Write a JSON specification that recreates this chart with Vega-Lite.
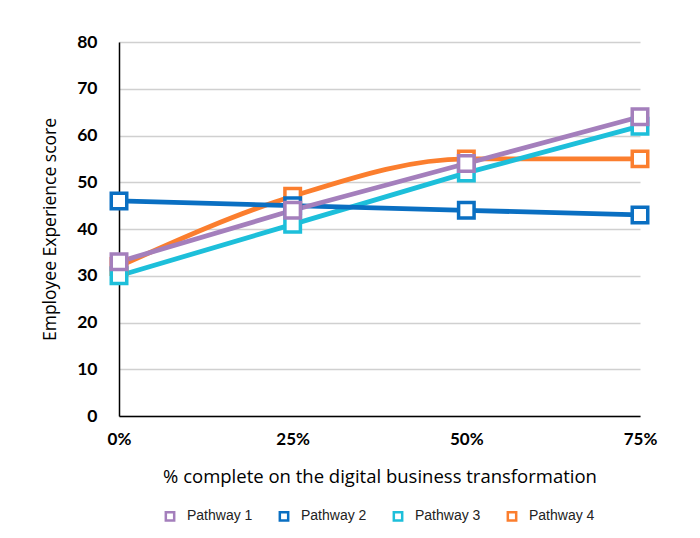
{
  "$schema": "https://vega.github.io/schema/vega-lite/v6.json",
  "autosize": {"type": "none"},
  "width": 521,
  "height": 374,
  "padding": {"left": 119, "top": 42, "right": 60, "bottom": 122},
  "background": "white",
  "config": {"view": {"stroke": null}},
  "data": {
    "values": [
      {"pct": 0, "pathway": "Pathway 4", "score": 32},
      {"pct": 25, "pathway": "Pathway 4", "score": 47},
      {"pct": 50, "pathway": "Pathway 4", "score": 55},
      {"pct": 75, "pathway": "Pathway 4", "score": 55},
      {"pct": 0, "pathway": "Pathway 3", "score": 30},
      {"pct": 25, "pathway": "Pathway 3", "score": 41},
      {"pct": 50, "pathway": "Pathway 3", "score": 52},
      {"pct": 75, "pathway": "Pathway 3", "score": 62},
      {"pct": 0, "pathway": "Pathway 2", "score": 46},
      {"pct": 25, "pathway": "Pathway 2", "score": 45},
      {"pct": 50, "pathway": "Pathway 2", "score": 44},
      {"pct": 75, "pathway": "Pathway 2", "score": 43},
      {"pct": 0, "pathway": "Pathway 1", "score": 33},
      {"pct": 25, "pathway": "Pathway 1", "score": 44},
      {"pct": 50, "pathway": "Pathway 1", "score": 54},
      {"pct": 75, "pathway": "Pathway 1", "score": 64}
    ]
  },
  "encoding": {
    "x": {
      "field": "pct", "type": "quantitative",
      "scale": {"domain": [0, 75], "nice": false, "zero": false},
      "axis": {
        "values": [0, 25, 50, 75],
        "labelExpr": "datum.value + '%'",
        "grid": false, "ticks": false,
        "domainColor": "#000000", "domainWidth": 1.5,
        "labelFont": "Lato", "labelFontWeight": "bold", "labelFontSize": 17, "labelColor": "#000000",
        "labelPadding": 15, "labelFlush": false,
        "title": "% complete on the digital business transformation",
        "titleFont": "Open Sans", "titleFontWeight": "normal", "titleFontSize": 18.5, "titleColor": "#000000",
        "titlePadding": 20
      }
    },
    "y": {
      "field": "score", "type": "quantitative",
      "scale": {"domain": [0, 80], "nice": false},
      "axis": {
        "values": [0, 10, 20, 30, 40, 50, 60, 70, 80],
        "grid": true, "gridColor": "#d0d0d0", "gridWidth": 1.5,
        "ticks": false,
        "domainColor": "#000000", "domainWidth": 1.5,
        "labelFont": "Lato", "labelFontWeight": "bold", "labelFontSize": 17.5, "labelColor": "#000000",
        "labelPadding": 22,
        "title": "Employee Experience score",
        "titleFont": "Open Sans", "titleFontWeight": "normal", "titleFontSize": 17.5, "titleColor": "#000000",
        "titlePadding": 17
      }
    },
    "color": {
      "field": "pathway", "type": "nominal",
      "scale": {
        "domain": ["Pathway 1", "Pathway 2", "Pathway 3", "Pathway 4"],
        "range": ["#A47FBC", "#0A6FC2", "#1DBFDA", "#FB7E2E"]
      },
      "legend": {
        "orient": "none", "legendX": 44, "legendY": 467,
        "direction": "horizontal", "title": null,
        "symbolType": "square", "symbolFillColor": "white", "symbolStrokeWidth": 2.5, "symbolSize": 70,
        "labelFont": "Liberation Sans", "labelFontSize": 14, "labelColor": "#222222",
        "labelOffset": 10, "columnPadding": 21
      }
    }
  },
  "layer": [
    {
      "transform": [{"filter": "datum.pathway == 'Pathway 4'"}],
      "mark": {"type": "line", "interpolate": "monotone", "strokeWidth": 4.8}
    },
    {
      "transform": [{"filter": "datum.pathway != 'Pathway 4'"}],
      "mark": {"type": "line", "strokeWidth": 4.8}
    },
    {
      "mark": {"type": "point", "shape": "square", "filled": false, "fill": "white", "fillOpacity": 1, "opacity": 1, "strokeWidth": 3.5, "size": 240}
    }
  ]
}
